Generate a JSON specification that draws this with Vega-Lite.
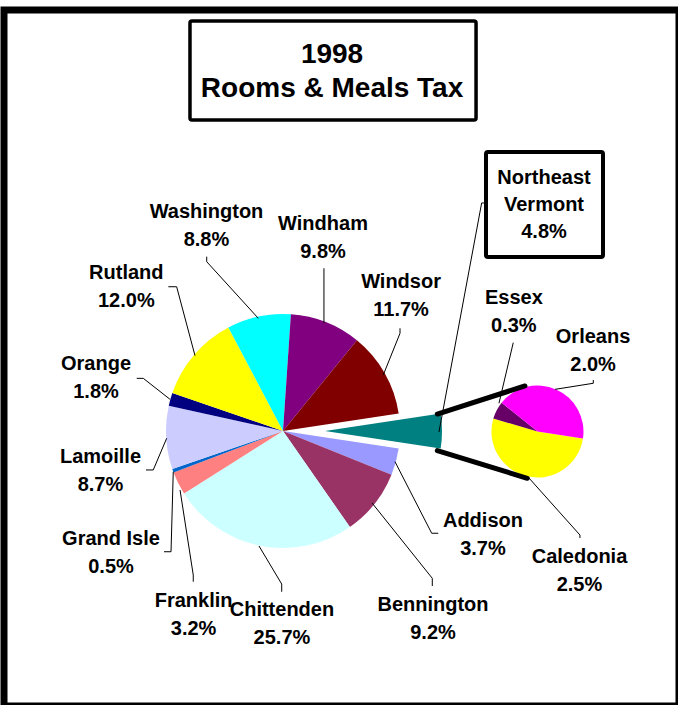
{
  "$schema": "https://vega.github.io/schema/vega-lite/v6.json",
  "width": 675,
  "height": 696,
  "autosize": {"type": "none"},
  "padding": {"left": 4, "top": 10, "right": -1, "bottom": -1},
  "background": "white",
  "config": {
    "view": {"stroke": "black", "strokeWidth": 7, "fill": "white"},
    "axis": {"disable": true},
    "legend": {"disable": true},
    "text": {"font": "Liberation Sans", "fontWeight": "bold", "fontSize": 20, "lineHeight": 28, "lineBreak": "\n", "align": "center", "baseline": "alphabetic", "color": "black"},
    "rule": {"color": "black", "strokeWidth": 1}
  },
  "data": {"values": [{}]},
  "datasets": {
    "main": [
      {"name": "Addison", "pct": 3.7, "group": "county", "label": "Addison\n3.7%"},
      {"name": "Bennington", "pct": 9.2, "group": "county", "label": "Bennington\n9.2%"},
      {"name": "Chittenden", "pct": 25.7, "group": "county", "label": "Chittenden\n25.7%"},
      {"name": "Franklin", "pct": 3.2, "group": "county", "label": "Franklin\n3.2%"},
      {"name": "Grand Isle", "pct": 0.5, "group": "county", "label": "Grand Isle\n0.5%"},
      {"name": "Lamoille", "pct": 8.7, "group": "county", "label": "Lamoille\n8.7%"},
      {"name": "Orange", "pct": 1.8, "group": "county", "label": "Orange\n1.8%"},
      {"name": "Rutland", "pct": 12.0, "group": "county", "label": "Rutland\n12.0%"},
      {"name": "Washington", "pct": 8.8, "group": "county", "label": "Washington\n8.8%"},
      {"name": "Windham", "pct": 9.8, "group": "county", "label": "Windham\n9.8%"},
      {"name": "Windsor", "pct": 11.7, "group": "county", "label": "Windsor\n11.7%"},
      {"name": "Northeast Vermont", "pct": 4.8, "group": "region", "label": "Northeast\nVermont\n4.8%"}
    ],
    "northeast": [
      {"name": "Caledonia", "pct": 2.5, "label": "Caledonia\n2.5%"},
      {"name": "Essex", "pct": 0.3, "label": "Essex\n0.3%"},
      {"name": "Orleans", "pct": 2.0, "label": "Orleans\n2.0%"}
    ]
  },
  "resolve": {"scale": {"theta": "independent"}},
  "layer": [
    {
      "data": {"name": "main"},
      "mark": {"type": "arc", "radius": 117},
      "encoding": {
        "x": {"datum": 0, "type": "quantitative", "scale": {"domain": [-238.46, 338.46], "nice": false, "zero": false}, "axis": null},
        "y": {"datum": 0, "type": "quantitative", "scale": {"domain": [-359.83, 235.04], "nice": false, "zero": false, "reverse": true}, "axis": null},
        "theta": {"field": "pct", "type": "quantitative", "stack": true, "scale": {"range": [1.7218, 8.005]}},
        "order": {"field": "group", "type": "nominal"},
        "color": {
          "field": "name", "type": "nominal", "legend": null,
          "scale": {
            "domain": ["Addison", "Bennington", "Chittenden", "Franklin", "Grand Isle", "Lamoille", "Orange", "Rutland", "Washington", "Windham", "Windsor", "Northeast Vermont", "Caledonia", "Essex", "Orleans"],
            "range": ["#9999FF", "#993366", "#CCFFFF", "#FF8080", "#0066CC", "#CCCCFF", "#000080", "#FFFF00", "#00FFFF", "#800080", "#800000", "#008080", "#FFFF00", "#660066", "#FF00FF"]
          }
        },
        "opacity": {"condition": {"test": "datum.name === 'Northeast Vermont'", "value": 0}, "value": 1}
      }
    },
    {
      "data": {"name": "main"},
      "mark": {"type": "arc", "radius": 117, "xOffset": 42},
      "encoding": {
        "x": {"datum": 0, "type": "quantitative"},
        "y": {"datum": 0, "type": "quantitative"},
        "theta": {"field": "pct", "type": "quantitative", "stack": true, "scale": {"range": [1.7218, 8.005]}},
        "order": {"field": "group", "type": "nominal"},
        "color": {"field": "name", "type": "nominal", "legend": null},
        "opacity": {"condition": {"test": "datum.name === 'Northeast Vermont'", "value": 1}, "value": 0}
      }
    },
    {
      "data": {"name": "northeast"},
      "mark": {"type": "arc", "radius": 46},
      "encoding": {
        "x": {"datum": 217.5, "type": "quantitative"},
        "y": {"datum": 0.4, "type": "quantitative"},
        "theta": {"field": "pct", "type": "quantitative", "stack": true, "scale": {"range": [1.7244, 8.0076]}},
        "order": {"field": "name", "type": "nominal"},
        "color": {"field": "name", "type": "nominal", "legend": null}
      }
    },
    {"mark": {"type": "rule", "strokeWidth": 5, "strokeCap": "round"}, "encoding": {"x": {"datum": 131.9}, "y": {"datum": -14.5}, "x2": {"datum": 206.8}, "y2": {"datum": -38.5}}},
    {"mark": {"type": "rule", "strokeWidth": 5, "strokeCap": "round"}, "encoding": {"x": {"datum": 131.9}, "y": {"datum": 16.8}, "x2": {"datum": 208.8}, "y2": {"datum": 40.4}}},

    {"mark": "rule", "encoding": {"x": {"datum": -65.2}, "y": {"datum": -149.0}, "x2": {"datum": -65.2}, "y2": {"datum": -144.7}}},
    {"mark": "rule", "encoding": {"x": {"datum": -65.2}, "y": {"datum": -144.7}, "x2": {"datum": -21.1}, "y2": {"datum": -96.3}}},
    {"mark": "rule", "encoding": {"x": {"datum": 35.0}, "y": {"datum": -139.1}, "x2": {"datum": 35.0}, "y2": {"datum": -92.1}}},
    {"mark": "rule", "encoding": {"x": {"datum": 100.0}, "y": {"datum": -87.8}, "x2": {"datum": 100.0}, "y2": {"datum": -83.5}}},
    {"mark": "rule", "encoding": {"x": {"datum": 100.0}, "y": {"datum": -83.5}, "x2": {"datum": 85.7}, "y2": {"datum": -47.9}}},
    {"mark": "rule", "encoding": {"x": {"datum": 95.7}, "y": {"datum": 26.2}, "x2": {"datum": 127.1}, "y2": {"datum": 87.4}}},
    {"mark": "rule", "encoding": {"x": {"datum": 127.1}, "y": {"datum": 87.4}, "x2": {"datum": 132.7}, "y2": {"datum": 87.4}}},
    {"mark": "rule", "encoding": {"x": {"datum": 76.1}, "y": {"datum": 61.5}, "x2": {"datum": 127.6}, "y2": {"datum": 125.9}}},
    {"mark": "rule", "encoding": {"x": {"datum": 127.6}, "y": {"datum": 125.9}, "x2": {"datum": 127.6}, "y2": {"datum": 132.5}}},
    {"mark": "rule", "encoding": {"x": {"datum": -20.5}, "y": {"datum": 98.3}, "x2": {"datum": -1.1}, "y2": {"datum": 130.8}}},
    {"mark": "rule", "encoding": {"x": {"datum": -1.1}, "y": {"datum": 130.8}, "x2": {"datum": -1.1}, "y2": {"datum": 137.4}}},
    {"mark": "rule", "encoding": {"x": {"datum": -88.0}, "y": {"datum": 50.4}, "x2": {"datum": -76.7}, "y2": {"datum": 123.1}}},
    {"mark": "rule", "encoding": {"x": {"datum": -76.7}, "y": {"datum": 123.1}, "x2": {"datum": -76.7}, "y2": {"datum": 128.8}}},
    {"mark": "rule", "encoding": {"x": {"datum": -93.8}, "y": {"datum": 34.8}, "x2": {"datum": -95.7}, "y2": {"datum": 103.2}}},
    {"mark": "rule", "encoding": {"x": {"datum": -95.7}, "y": {"datum": 103.2}, "x2": {"datum": -101.7}, "y2": {"datum": 103.2}}},
    {"mark": "rule", "encoding": {"x": {"datum": -99.4}, "y": {"datum": 6.2}, "x2": {"datum": -110.9}, "y2": {"datum": 33.3}}},
    {"mark": "rule", "encoding": {"x": {"datum": -110.9}, "y": {"datum": 33.3}, "x2": {"datum": -117.1}, "y2": {"datum": 33.3}}},
    {"mark": "rule", "encoding": {"x": {"datum": -125.0}, "y": {"datum": -45.0}, "x2": {"datum": -119.4}, "y2": {"datum": -45.0}}},
    {"mark": "rule", "encoding": {"x": {"datum": -119.4}, "y": {"datum": -45.0}, "x2": {"datum": -96.6}, "y2": {"datum": -27.1}}},
    {"mark": "rule", "encoding": {"x": {"datum": -98.0}, "y": {"datum": -123.3}, "x2": {"datum": -90.9}, "y2": {"datum": -123.3}}},
    {"mark": "rule", "encoding": {"x": {"datum": -90.9}, "y": {"datum": -123.3}, "x2": {"datum": -75.2}, "y2": {"datum": -64.4}}},
    {"mark": "rule", "encoding": {"x": {"datum": 173.5}, "y": {"datum": -194.9}, "x2": {"datum": 169.8}, "y2": {"datum": -194.9}}},
    {"mark": "rule", "encoding": {"x": {"datum": 169.8}, "y": {"datum": -194.9}, "x2": {"datum": 133.3}, "y2": {"datum": 0.9}}},
    {"mark": "rule", "encoding": {"x": {"datum": 196.8}, "y": {"datum": -75.5}, "x2": {"datum": 184.6}, "y2": {"datum": -23.7}}},
    {"mark": "rule", "encoding": {"x": {"datum": 265.2}, "y": {"datum": -43.6}, "x2": {"datum": 265.2}, "y2": {"datum": -40.8}}},
    {"mark": "rule", "encoding": {"x": {"datum": 265.2}, "y": {"datum": -40.8}, "x2": {"datum": 232.5}, "y2": {"datum": -35.6}}},
    {"mark": "rule", "encoding": {"x": {"datum": 209.7}, "y": {"datum": 39.6}, "x2": {"datum": 253.8}, "y2": {"datum": 88.9}}},
    {"mark": "rule", "encoding": {"x": {"datum": 253.8}, "y": {"datum": 88.9}, "x2": {"datum": 253.8}, "y2": {"datum": 91.5}}},

    {"mark": {"type": "rect", "fill": "white", "stroke": "black", "strokeWidth": 3.5, "cornerRadius": 2}, "encoding": {"x": {"datum": -79.5}, "x2": {"datum": 165.0}, "y": {"datum": -350.4}, "y2": {"datum": -265.8}}},
    {"mark": {"type": "rect", "fill": "white", "stroke": "black", "strokeWidth": 4, "cornerRadius": 2}, "encoding": {"x": {"datum": 173.5}, "x2": {"datum": 273.5}, "y": {"datum": -238.5}, "y2": {"datum": -148.7}}},

    {"mark": {"type": "text", "fontSize": 28, "lineHeight": 34}, "encoding": {"x": {"datum": 41.9}, "y": {"datum": -314.3}, "text": {"value": ["1998", "Rooms & Meals Tax"]}}},

    {"data": {"name": "main"}, "transform": [{"filter": "datum.name === 'Washington'"}], "mark": "text", "encoding": {"x": {"datum": -65.4}, "y": {"datum": -181.8}, "text": {"field": "label"}}},
    {"data": {"name": "main"}, "transform": [{"filter": "datum.name === 'Windham'"}], "mark": "text", "encoding": {"x": {"datum": 34.2}, "y": {"datum": -171.8}, "text": {"field": "label"}}},
    {"data": {"name": "main"}, "transform": [{"filter": "datum.name === 'Windsor'"}], "mark": "text", "encoding": {"x": {"datum": 100.9}, "y": {"datum": -122.2}, "text": {"field": "label"}}},
    {"data": {"name": "main"}, "transform": [{"filter": "datum.name === 'Addison'"}], "mark": "text", "encoding": {"x": {"datum": 170.9}, "y": {"datum": 81.8}, "text": {"field": "label"}}},
    {"data": {"name": "main"}, "transform": [{"filter": "datum.name === 'Bennington'"}], "mark": "text", "encoding": {"x": {"datum": 128.2}, "y": {"datum": 153.8}, "text": {"field": "label"}}},
    {"data": {"name": "main"}, "transform": [{"filter": "datum.name === 'Chittenden'"}], "mark": "text", "encoding": {"x": {"datum": -0.9}, "y": {"datum": 157.9}, "text": {"field": "label"}}},
    {"data": {"name": "main"}, "transform": [{"filter": "datum.name === 'Franklin'"}], "mark": "text", "encoding": {"x": {"datum": -76.4}, "y": {"datum": 150.4}, "text": {"field": "label"}}},
    {"data": {"name": "main"}, "transform": [{"filter": "datum.name === 'Grand Isle'"}], "mark": "text", "encoding": {"x": {"datum": -147.0}, "y": {"datum": 97.4}, "text": {"field": "label"}}},
    {"data": {"name": "main"}, "transform": [{"filter": "datum.name === 'Lamoille'"}], "mark": "text", "encoding": {"x": {"datum": -156.0}, "y": {"datum": 27.1}, "text": {"field": "label"}}},
    {"data": {"name": "main"}, "transform": [{"filter": "datum.name === 'Orange'"}], "mark": "text", "encoding": {"x": {"datum": -159.8}, "y": {"datum": -52.1}, "text": {"field": "label"}}},
    {"data": {"name": "main"}, "transform": [{"filter": "datum.name === 'Rutland'"}], "mark": "text", "encoding": {"x": {"datum": -133.9}, "y": {"datum": -129.7}, "text": {"field": "label"}}},
    {"data": {"name": "main"}, "transform": [{"filter": "datum.name === 'Northeast Vermont'"}], "mark": {"type": "text", "lineHeight": 27}, "encoding": {"x": {"datum": 223.1}, "y": {"datum": -211.1}, "text": {"field": "label"}}},
    {"data": {"name": "northeast"}, "transform": [{"filter": "datum.name === 'Essex'"}], "mark": "text", "encoding": {"x": {"datum": 197.3}, "y": {"datum": -108.5}, "text": {"field": "label"}}},
    {"data": {"name": "northeast"}, "transform": [{"filter": "datum.name === 'Orleans'"}], "mark": "text", "encoding": {"x": {"datum": 265.0}, "y": {"datum": -75.5}, "text": {"field": "label"}}},
    {"data": {"name": "northeast"}, "transform": [{"filter": "datum.name === 'Caledonia'"}], "mark": "text", "encoding": {"x": {"datum": 253.4}, "y": {"datum": 113.1}, "text": {"field": "label"}}}
  ]
}
